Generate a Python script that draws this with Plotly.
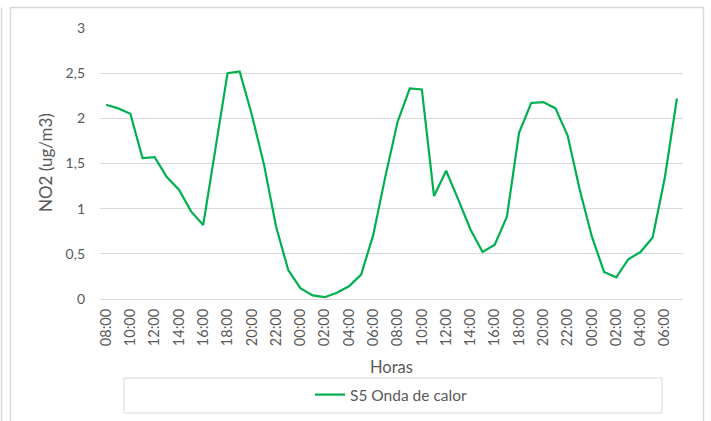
import plotly.graph_objects as go

hours = ["08:00","09:00","10:00","11:00","12:00","13:00","14:00","15:00","16:00","17:00",
         "18:00","19:00","20:00","21:00","22:00","23:00","00:00","01:00","02:00","03:00",
         "04:00","05:00","06:00","07:00",
         "08:00","09:00","10:00","11:00","12:00","13:00","14:00","15:00","16:00","17:00",
         "18:00","19:00","20:00","21:00","22:00","23:00","00:00","01:00","02:00","03:00",
         "04:00","05:00","06:00","07:00"]
no2 = [2.15, 2.11, 2.05, 1.56, 1.57, 1.35, 1.21, 0.97, 0.82, 1.66,
       2.50, 2.52, 2.04, 1.49, 0.80, 0.32, 0.12, 0.04, 0.02, 0.07,
       0.14, 0.27, 0.71, 1.36, 1.96, 2.33, 2.32, 1.14, 1.42, 1.10,
       0.77, 0.52, 0.60, 0.91, 1.84, 2.17, 2.18, 2.11, 1.81, 1.21,
       0.69, 0.30, 0.24, 0.44, 0.52, 0.68, 1.34, 2.22]
series_name = "S5 Onda de calor"

x = list(range(len(no2)))
tickvals = x[::2]
ticktext = hours[::2]

W, H = 711, 421
L, R, T, B = 100, 28, 28, 122
pw, ph = W - L - R, H - T - B

def px_x(p):
    return (p - L) / pw

def px_y(p):
    return (H - B - p) / ph

font_fam = "Lato, Open Sans, sans-serif"
txt = "#595959"
grid = "#d9d9d9"

fig = go.Figure()
fig.add_trace(go.Scatter(x=x, y=no2, mode="lines", name=series_name,
                         line=dict(color="#00B050", width=2.2)))

fig.update_layout(
    width=W, height=H,
    margin=dict(l=L, r=R, t=T, b=B, autoexpand=False),
    paper_bgcolor="white", plot_bgcolor="white",
    separators=", ",
    font=dict(family=font_fam, color=txt, size=13),
    showlegend=True,
    legend=dict(orientation="h", x=0.5, xanchor="center", y=px_y(395), yanchor="middle",
                font=dict(size=15.5, color=txt), bgcolor="rgba(0,0,0,0)"),
    xaxis=dict(range=[-0.5, len(no2) - 0.5], tickmode="array", tickvals=tickvals,
               ticktext=ticktext, tickangle=-90, showgrid=False, zeroline=False,
               showline=False, ticks="", tickfont=dict(size=14.5, color=txt),
               ticklabelstandoff=6, automargin=False),
    yaxis=dict(range=[0, 3], dtick=0.5, showgrid=True, gridcolor=grid, gridwidth=1,
               zeroline=True, zerolinecolor=grid, zerolinewidth=1, showline=False,
               ticks="", tickfont=dict(size=14, color=txt), ticklabelstandoff=14,
               automargin=False),
    shapes=[
        dict(type="rect", xref="paper", yref="paper",
             x0=px_x(10.5), x1=px_x(703.5), y0=px_y(430), y1=px_y(7.5),
             line=dict(color=grid, width=1.5), fillcolor="rgba(0,0,0,0)", layer="below"),
        dict(type="line", xref="paper", yref="paper",
             x0=px_x(1.5), x1=px_x(1.5), y0=px_y(430), y1=px_y(7.5),
             line=dict(color=grid, width=1.5)),
        dict(type="rect", xref="paper", yref="paper",
             x0=px_x(124), x1=px_x(662), y0=px_y(413), y1=px_y(378),
             line=dict(color=grid, width=1), fillcolor="rgba(0,0,0,0)"),
    ],
    annotations=[
        dict(text="Horas", xref="paper", yref="paper", x=px_x(391), y=px_y(367),
             xanchor="center", yanchor="middle", showarrow=False,
             font=dict(size=16.5, color=txt)),
        dict(text="NO2 (ug/m3)", xref="paper", yref="paper", x=px_x(45), y=px_y(162),
             xanchor="center", yanchor="middle", showarrow=False, textangle=-90,
             font=dict(size=17, color=txt)),
    ],
)

fig.write_html("out.html", config={"displayModeBar": False},
               post_script="document.body.style.margin='0';document.body.style.overflow='hidden';")
